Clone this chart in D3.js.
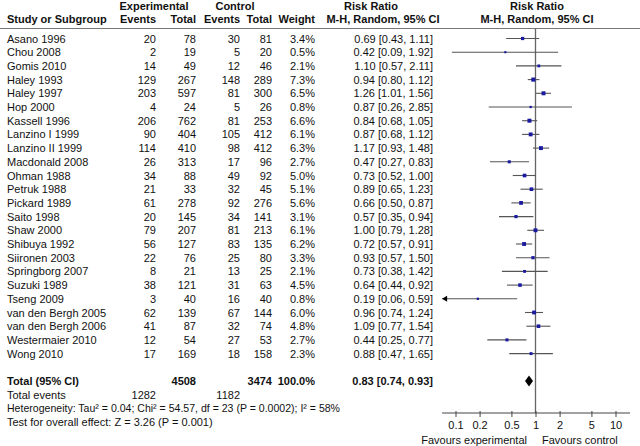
<!DOCTYPE html>
<html><head><meta charset="utf-8">
<script src="https://cdn.jsdelivr.net/npm/d3@7"></script>
<style>
body{margin:0;background:#fff;}
svg text{font-family:"Liberation Sans",Arial,sans-serif;font-size:11px;fill:#111;}
</style></head>
<body><svg id="c" width="640" height="446"></svg>
<script>
const studies = ["Asano 1996","Chou 2008","Gomis 2010","Haley 1993","Haley 1997","Hop 2000","Kassell 1996","Lanzino I 1999","Lanzino II 1999","Macdonald 2008","Ohman 1988","Petruk 1988","Pickard 1989","Saito 1998","Shaw 2000","Shibuya 1992","Siironen 2003","Springborg 2007","Suzuki 1989","Tseng 2009","van den Bergh 2005","van den Bergh 2006","Westermaier 2010","Wong 2010"];
const expEvents = [20,2,14,129,203,4,206,90,114,26,34,21,61,20,79,56,22,8,38,3,62,41,12,17];
const expTotal = [78,19,49,267,597,24,762,404,410,313,88,33,278,145,207,127,76,21,121,40,139,87,54,169];
const ctrlEvents = [30,5,12,148,81,5,81,105,98,17,49,32,92,34,81,83,25,13,31,16,67,32,27,18];
const ctrlTotal = [81,20,46,289,300,26,253,412,412,96,92,45,276,141,213,135,80,25,63,40,144,74,53,158];
const weights = [3.4,0.5,2.1,7.3,6.5,0.8,6.6,6.1,6.3,2.7,5.0,5.1,5.6,3.1,6.1,6.2,3.3,2.1,4.5,0.8,6.0,4.8,2.7,2.3];
const rr = [0.69,0.42,1.10,0.94,1.26,0.87,0.84,0.87,1.17,0.47,0.73,0.89,0.66,0.57,1.00,0.72,0.93,0.73,0.64,0.19,0.96,1.09,0.44,0.88];
const lo = [0.43,0.09,0.57,0.80,1.01,0.26,0.68,0.68,0.93,0.27,0.52,0.65,0.50,0.35,0.79,0.57,0.57,0.38,0.44,0.06,0.74,0.77,0.25,0.47];
const hi = [1.11,1.92,2.11,1.12,1.56,2.85,1.05,1.12,1.48,0.83,1.00,1.23,0.87,0.94,1.28,0.91,1.50,1.42,0.92,0.59,1.24,1.54,0.77,1.65];
const total = {expTotal:4508, ctrlTotal:3474, weight:"100.0%", rr:0.83, lo:0.74, hi:0.93, expEvents:1282, ctrlEvents:1182};
const tickValues = [0.1,0.2,0.5,1,2,5,10];
const tickLabels = ["0.1","0.2","0.5","1","2","5","10"];
const axisExtent = [0.068, 15.2];
const heterogeneity = "Heterogeneity: Tau\u00B2 = 0.04; Chi\u00B2 = 54.57, df = 23 (P = 0.0002); I\u00B2 = 58%";
const overall = "Test for overall effect: Z = 3.26 (P = 0.001)";

const svg = d3.select("#c");
const x = d3.scaleLog().domain([0.1,10]).range([455.5,615.5]);
const rowY = d3.scaleLinear().domain([0,1]).range([38.5,52.2]);
const fmt2 = d3.format(".2f");
const ciText = (r,l,h)=>`${fmt2(r)} [${fmt2(l)}, ${fmt2(h)}]`;
const cols = {name:7, ee:156, et:196, ce:240, ct:272, w:315, rr:433};
const off = 4;

function txt(xp, y, s, anchor, bold){
  return svg.append("text").attr("x",xp).attr("y",y).attr("text-anchor",anchor||"start")
    .style("font-weight",bold?"bold":"normal").text(s);
}
// headers
txt(154,10,"Experimental","middle",true);
txt(235,10,"Control","middle",true);
txt(371,10,"Risk Ratio","middle",true);
txt(537,10,"Risk Ratio","middle",true);
txt(cols.name,23,"Study or Subgroup","start",true);
txt(cols.ee,23,"Events","end",true);
txt(cols.et,23,"Total","end",true);
txt(cols.ce,23,"Events","end",true);
txt(cols.ct,23,"Total","end",true);
txt(cols.w,23,"Weight","end",true);
txt(383,23,"M-H, Random, 95% CI","middle",true);
txt(537,23,"M-H, Random, 95% CI","middle",true);
svg.append("line").attr("x1",0).attr("x2",640).attr("y1",28.5).attr("y2",28.5).attr("stroke","#777").attr("stroke-width",1);

const axisY = 413;
// null line
svg.append("line").attr("x1",x(1)).attr("x2",x(1)).attr("y1",28.5).attr("y2",axisY)
  .attr("stroke","#666").attr("stroke-width",1.3);

const n = studies.length;
const g = svg.append("g");
studies.forEach((s,i)=>{
  const y = rowY(i);
  txt(cols.name,y+off,s);
  txt(cols.ee,y+off,expEvents[i],"end");
  txt(cols.et,y+off,expTotal[i],"end");
  txt(cols.ce,y+off,ctrlEvents[i],"end");
  txt(cols.ct,y+off,ctrlTotal[i],"end");
  txt(cols.w,y+off,weights[i].toFixed(1)+"%","end");
  txt(cols.rr,y+off,ciText(rr[i],lo[i],hi[i]),"end");
  const l = Math.max(lo[i],axisExtent[0]), h = Math.min(hi[i],axisExtent[1]);
  g.append("line").attr("x1",x(l)).attr("x2",x(h)).attr("y1",y).attr("y2",y)
    .attr("stroke","#555").attr("stroke-width",1.1);
  if (lo[i] < axisExtent[0]) {
    const ax = x(axisExtent[0]);
    g.append("path").attr("d",`M${ax},${y} L${ax+5},${y-3} L${ax+5},${y+3} Z`).attr("fill","#000");
  }
  const sz = 1.4 + Math.sqrt(weights[i])*1.0;
  g.append("rect").attr("x",x(rr[i])-sz/2).attr("y",y-sz/2).attr("width",sz).attr("height",sz)
    .attr("fill","#1a1aa0");
});

// total rows
const ty = rowY(n+1);
txt(cols.name,ty+off,"Total (95% CI)","start",true);
txt(cols.et,ty+off,total.expTotal,"end",true);
txt(cols.ct,ty+off,total.ctrlTotal,"end",true);
txt(cols.w,ty+off,total.weight,"end",true);
txt(cols.rr,ty+off,ciText(total.rr,total.lo,total.hi),"end",true);
svg.append("path").attr("d",`M${x(total.lo)},${ty} L${x(total.rr)},${ty-5.5} L${x(total.hi)},${ty} L${x(total.rr)},${ty+5.5} Z`).attr("fill","#000");
txt(cols.name,ty+13.7+off,"Total events");
txt(cols.ee,ty+13.7+off,total.expEvents,"end");
txt(cols.ce,ty+13.7+off,total.ctrlEvents,"end");
txt(cols.name,ty+27.4+off,heterogeneity).attr("textLength",333).attr("lengthAdjust","spacingAndGlyphs");
txt(cols.name,ty+41+off,overall);

// axis
svg.append("line").attr("x1",x(axisExtent[0])).attr("x2",x(axisExtent[1])).attr("y1",axisY).attr("y2",axisY)
  .attr("stroke","#444").attr("stroke-width",1);
const axis = d3.axisBottom(x).tickValues(tickValues).tickFormat((d,i)=>tickLabels[i]).tickSize(4).tickPadding(4);
const ag = svg.append("g").attr("transform",`translate(0,${axisY})`).call(axis);
ag.select(".domain").remove();
ag.selectAll(".tick line").attr("y1",-2).attr("stroke","#444");
ag.selectAll(".tick text").style("font-size","11px").style("font-family","Liberation Sans, Arial, sans-serif").attr("fill","#111");
txt(527,444,"Favours experimental","end");
txt(542,444,"Favours control","start");
</script></body></html>
